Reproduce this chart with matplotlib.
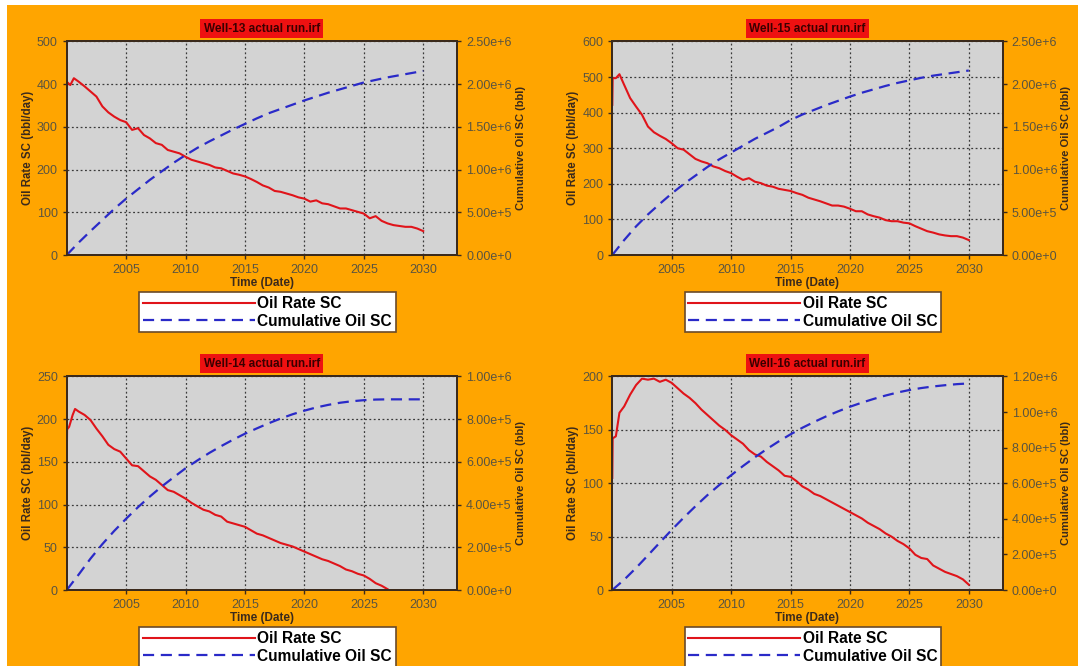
#!/usr/bin/env python3

import matplotlib
matplotlib.use("Agg")
import matplotlib.pyplot as plt
from matplotlib.patches import Rectangle
from matplotlib.ticker import FuncFormatter
import numpy as np

plt.rcParams['font.family'] = ['Liberation Sans', 'DejaVu Sans']

# ---- data ----
# half-year sample dates after the start-up points
t_half = np.arange(2001.0, 2030.01, 0.5)
years = np.arange(2000, 2031)

# Well-13
w13_start_t = [2000.0, 2000.03, 2000.3, 2000.6]
w13_start_r = [350, 405, 398, 414]
w13_rate = [406, 395, 383, 371, 348, 334, 324, 316, 311, 293,
            297, 281, 273, 262, 258, 246, 242, 238, 230, 223,
            219, 215, 211, 205, 203, 197, 191, 188, 184, 178,
            171, 163, 158, 150, 148, 144, 140, 135, 132, 125,
            128, 121, 119, 114, 109, 109, 105, 101, 97, 86,
            91, 80, 74, 70, 68, 66, 66, 62, 56]
w13_cum = [0, 0.145, 0.28, 0.41, 0.54, 0.66, 0.77, 0.88, 0.98, 1.08,
           1.17, 1.255, 1.33, 1.40, 1.47, 1.535, 1.60, 1.66, 1.71, 1.76,
           1.81, 1.855, 1.90, 1.94, 1.98, 2.02, 2.05, 2.08, 2.105, 2.13, 2.155]

# Well-15
w15_start_t = [2000.0, 2000.03, 2000.3, 2000.6]
w15_start_r = [422, 497, 497, 508]
w15_rate = [478, 441, 417, 394, 361, 345, 335, 326, 314, 300,
            296, 283, 270, 263, 258, 249, 244, 236, 230, 220,
            211, 216, 206, 202, 195, 192, 186, 183, 180, 174,
            169, 161, 156, 151, 145, 139, 139, 136, 130, 123,
            123, 114, 109, 105, 98, 95, 95, 91, 89, 81,
            74, 67, 63, 58, 55, 53, 53, 49, 42]
w15_cum = [0, 0.175, 0.335, 0.475, 0.60, 0.72, 0.83, 0.93, 1.03, 1.12,
           1.20, 1.28, 1.36, 1.43, 1.50, 1.58, 1.645, 1.70, 1.755, 1.805,
           1.855, 1.90, 1.94, 1.98, 2.015, 2.045, 2.075, 2.10, 2.12, 2.14, 2.16]

# Well-14
w14_start_t = [2000.0, 2000.03, 2000.2, 2000.5, 2000.7]
w14_start_r = [146, 188, 191, 205, 212]
w14_rate = [209, 205, 199, 189, 180, 170, 165, 162, 154, 146,
            145, 139, 133, 129, 123, 117, 115, 111, 107, 102,
            98, 94, 92, 88, 86, 80, 78, 76, 74, 70,
            66, 64, 61, 58, 55, 53, 51, 48, 45, 42,
            39, 36, 34, 31, 28, 24, 22, 19, 17, 13,
            8, 5, 1, np.nan, np.nan, np.nan, np.nan, np.nan, np.nan]
w14_cum = [0, 0.072, 0.147, 0.215, 0.277, 0.334, 0.388, 0.438, 0.485, 0.528,
           0.570, 0.607, 0.642, 0.674, 0.704, 0.732, 0.757, 0.781, 0.803, 0.823,
           0.840, 0.855, 0.867, 0.877, 0.884, 0.889, 0.892, 0.893, 0.893, 0.893, 0.893]

# Well-16
w16_start_t = [2000.0, 2000.03, 2000.3, 2000.6]
w16_start_r = [105, 142, 144, 166]
w16_rate = [172, 183, 192, 198, 197, 198, 195, 197, 194, 189,
            184, 180, 175, 169, 164, 159, 154, 150, 145, 141,
            137, 131, 127, 125, 120, 116, 112, 107, 106, 102,
            97, 94, 90, 88, 85, 82, 79, 76, 73, 70,
            67, 63, 60, 57, 53, 50, 46, 43, 39, 33,
            30, 29, 23, 20, 17, 15, 13, 10, 5]
w16_cum = [0, 0.058, 0.124, 0.195, 0.267, 0.338, 0.406, 0.471, 0.533, 0.59,
           0.645, 0.697, 0.746, 0.792, 0.835, 0.875, 0.912, 0.945, 0.976, 1.004,
           1.03, 1.053, 1.074, 1.093, 1.11, 1.124, 1.135, 1.144, 1.151, 1.157, 1.161]

# title, start t, start rate, rate, cum, left max, left step, right max, right step
wells = [
  ("Well-13 actual run.irf", w13_start_t, w13_start_r, w13_rate, w13_cum, 500, 100, 2.5e6, 5e5),
  ("Well-15 actual run.irf", w15_start_t, w15_start_r, w15_rate, w15_cum, 600, 100, 2.5e6, 5e5),
  ("Well-14 actual run.irf", w14_start_t, w14_start_r, w14_rate, w14_cum, 250, 50, 1.0e6, 2e5),
  ("Well-16 actual run.irf", w16_start_t, w16_start_r, w16_rate, w16_cum, 200, 50, 1.2e6, 2e5),
]

# axes rectangles in figure fraction
positions = [
  [0.0619, 0.6171, 0.3621, 0.3206],
  [0.5680, 0.6171, 0.3621, 0.3206],
  [0.0619, 0.1141, 0.3621, 0.3206],
  [0.5680, 0.1141, 0.3621, 0.3206],
]

ORANGE = "#ffa500"
PANEL = "#d3d3d3"
RED = "#e0141a"
BLUE = "#2a2ac8"
SPINE = "#3b2a1c"
TICKC = "#5a5440"


def sci_fmt(v, pos):
  if v == 0:
    return "0.00e+0"
  e = int(np.floor(np.log10(abs(v)) + 1e-9))
  m = v / 10**e
  return f"{m:.2f}e+{e}"


def main():
  fig = plt.figure(figsize=(10.78, 6.66), dpi=100, facecolor=ORANGE)
  fig.add_artist(Rectangle((0, 1 - 5/666), 1, 5/666, transform=fig.transFigure,
                           facecolor="white", edgecolor="none"))
  fig.add_artist(Rectangle((0, 0), 7/1078, 1, transform=fig.transFigure,
                           facecolor="white", edgecolor="none"))

  for pos, (title, st_t, st_r, rate, cum, ymax, ystep, cmax, cstep) in zip(positions, wells):
    ax = fig.add_axes(pos)
    ax.set_facecolor(PANEL)
    ax2 = ax.twinx()

    t = np.concatenate([st_t, t_half])
    r = np.concatenate([st_r, rate])
    l1, = ax.plot(t, r, '-', color=RED, lw=1.5, label="Oil Rate SC")
    l2, = ax2.plot(years, np.array(cum) * 1e6, color=BLUE, lw=1.6,
                   dashes=(5, 3), label="Cumulative Oil SC")

    ax.set_xlim(2000, 2032.85)
    ax.set_ylim(0, ymax)
    ax2.set_ylim(0, cmax)
    ax.set_xticks([2005, 2010, 2015, 2020, 2025, 2030])
    ax.set_yticks(np.arange(0, ymax + 1, ystep))
    ax2.set_yticks(np.arange(0, cmax + 1, cstep))
    ax2.yaxis.set_major_formatter(FuncFormatter(sci_fmt))

    ax.grid(True, color="#3a3a3a", linestyle=(0, (1.5, 2)), lw=0.9)
    ax.set_axisbelow(True)

    for a in (ax, ax2):
      for s in a.spines.values():
        s.set_color(SPINE)
        s.set_linewidth(1.4)
      a.tick_params(colors=SPINE, labelcolor=TICKC, labelsize=9, length=3, width=1)
    ax.spines['left'].set_color("#6a2a12")

    ax.set_xlabel("Time (Date)", fontsize=8.5, fontweight="bold", color=SPINE, labelpad=1)
    ax.set_ylabel("Oil Rate SC (bbl/day)", fontsize=8.3, fontweight="bold", color=SPINE, labelpad=2)
    ax2.set_ylabel("Cumulative Oil SC (bbl)", fontsize=8, fontweight="bold", color=SPINE, labelpad=3)

    ax.set_title(title, fontsize=8.5, fontweight="bold", color="#3a0000", pad=7,
                 bbox=dict(facecolor="#ee1111", edgecolor="none", pad=2.5))

    leg = ax.legend([l1, l2], ["Oil Rate SC", "Cumulative Oil SC"],
                    loc="upper center", bbox_to_anchor=(0.514, -0.175),
                    prop={"size": 11.2, "weight": "bold"}, handlelength=7.2,
                    handletextpad=0.15, labelspacing=0.15, borderpad=0.25,
                    borderaxespad=0, fancybox=False, framealpha=1)
    leg.get_frame().set_edgecolor("#6a4a2a")
    leg.get_frame().set_linewidth(1.2)

  fig.savefig("out.png", dpi=100, facecolor=ORANGE)


if __name__ == '__main__':
  main()
